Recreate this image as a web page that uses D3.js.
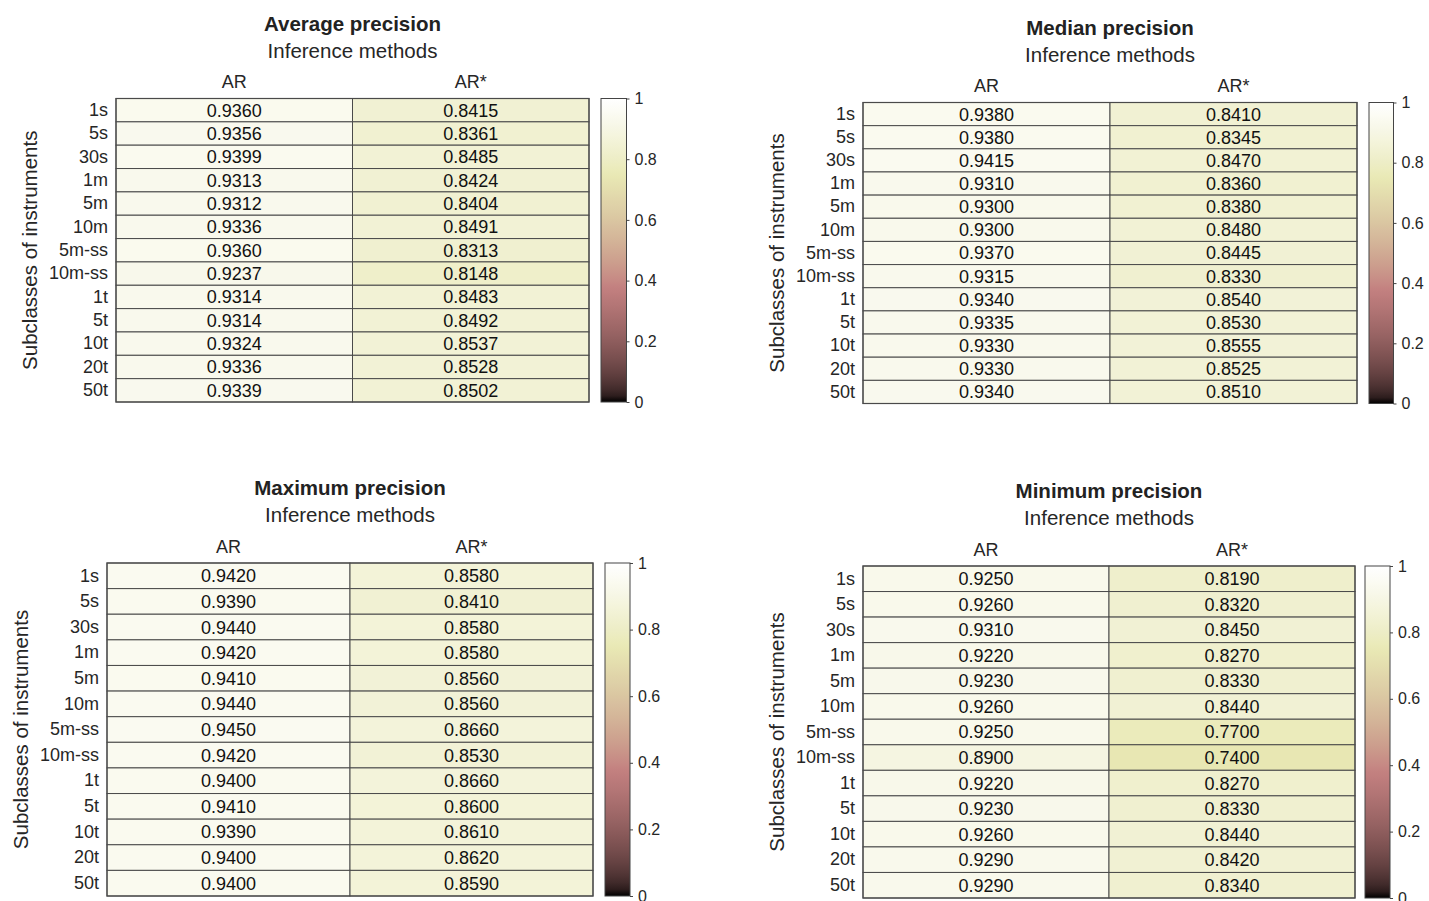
<!DOCTYPE html>
<html><head><meta charset="utf-8">
<script src="https://cdn.jsdelivr.net/npm/d3@7"></script>
<style>
body{margin:0;background:#fff}
text{font-family:"Liberation Sans",Arial,Helvetica,sans-serif}
</style>
</head><body>
<svg id="c" width="1429" height="901"></svg>
<script>
const subclasses = ["1s","5s","30s","1m","5m","10m","5m-ss","10m-ss","1t","5t","10t","20t","50t"];
const methods = ["AR","AR*"];
const avgAR  = [0.9360,0.9356,0.9399,0.9313,0.9312,0.9336,0.9360,0.9237,0.9314,0.9314,0.9324,0.9336,0.9339];
const avgARs = [0.8415,0.8361,0.8485,0.8424,0.8404,0.8491,0.8313,0.8148,0.8483,0.8492,0.8537,0.8528,0.8502];
const medAR  = [0.9380,0.9380,0.9415,0.9310,0.9300,0.9300,0.9370,0.9315,0.9340,0.9335,0.9330,0.9330,0.9340];
const medARs = [0.8410,0.8345,0.8470,0.8360,0.8380,0.8480,0.8445,0.8330,0.8540,0.8530,0.8555,0.8525,0.8510];
const maxAR  = [0.9420,0.9390,0.9440,0.9420,0.9410,0.9440,0.9450,0.9420,0.9400,0.9410,0.9390,0.9400,0.9400];
const maxARs = [0.8580,0.8410,0.8580,0.8580,0.8560,0.8560,0.8660,0.8530,0.8660,0.8600,0.8610,0.8620,0.8590];
const minAR  = [0.9250,0.9260,0.9310,0.9220,0.9230,0.9260,0.9250,0.8900,0.9220,0.9230,0.9260,0.9290,0.9290];
const minARs = [0.8190,0.8320,0.8450,0.8270,0.8330,0.8440,0.7700,0.7400,0.8270,0.8330,0.8440,0.8420,0.8340];
const colorbarTicks = [0, 0.2, 0.4, 0.6, 0.8, 1];
const titles = ["Average precision","Median precision","Maximum precision","Minimum precision"];
const xAxisTitle = "Inference methods";
const yAxisTitle = "Subclasses of instruments";

const series = [[avgAR,avgARs],[medAR,medARs],[maxAR,maxARs],[minAR,minARs]];

// layout of each panel (heatmap box + colorbar box)
const layouts = [
  {l:116, r:589,  t:98.5,  b:402,   cl:601,  cr:626.5},
  {l:863, r:1357, t:102.5, b:403.5, cl:1369, cr:1393.5},
  {l:107, r:593,  t:563,   b:896,   cl:605,  cr:630},
  {l:863, r:1355, t:566,   b:898,   cl:1365, cr:1390}
];

// MATLAB "pink" colormap
function pink(t){
  t = Math.max(0, Math.min(1, t));
  const hr = Math.min(1, t/0.375);
  const hg = Math.max(0, Math.min(1, (t-0.375)/0.375));
  const hb = Math.max(0, Math.min(1, (t-0.75)/0.25));
  const f = h => Math.round(255*Math.sqrt((2*t + h)/3));
  return `rgb(${f(hr)},${f(hg)},${f(hb)})`;
}
const color = d3.scaleSequential(pink).domain([0,1]);

const svg = d3.select("#c");
const defs = svg.append("defs");
const textCol = "#262626";
const gridCol = "#4a4a4a";
const FS = 18;
const FT = 20.5;

layouts.forEach((L, pi) => {
  const g = svg.append("g");
  const x = d3.scaleBand().domain(methods).range([L.l, L.r]);
  const y = d3.scaleBand().domain(subclasses).range([L.t, L.b]);
  const cells = [];
  subclasses.forEach((s, i) => methods.forEach((m, j) => cells.push({s, m, v: series[pi][j][i]})));

  g.selectAll("rect.cell").data(cells).join("rect")
    .attr("class","cell")
    .attr("x", d => x(d.m)).attr("y", d => y(d.s))
    .attr("width", x.bandwidth()).attr("height", y.bandwidth())
    .attr("fill", d => color(d.v))
    .attr("stroke", gridCol).attr("stroke-width", 1);

  g.selectAll("text.val").data(cells).join("text")
    .attr("class","val")
    .attr("x", d => x(d.m) + x.bandwidth()/2)
    .attr("y", d => y(d.s) + y.bandwidth()/2)
    .attr("dy","0.36em")
    .attr("text-anchor","middle")
    .attr("font-size", FS).attr("fill","#111")
    .text(d => d.v.toFixed(4));

  g.append("rect").attr("x",L.l).attr("y",L.t).attr("width",L.r-L.l).attr("height",L.b-L.t)
    .attr("fill","none").attr("stroke",gridCol).attr("stroke-width",1.2);

  // row labels
  const ay = g.append("g").attr("transform",`translate(${L.l},0)`)
    .call(d3.axisLeft(y).tickSize(0).tickPadding(8));
  ay.select(".domain").remove();
  ay.selectAll("text").attr("font-size",FS).attr("fill",textCol).attr("font-family",null);

  // column labels
  const ax = g.append("g").attr("transform",`translate(0,${L.t})`)
    .call(d3.axisTop(x).tickSize(0).tickPadding(10.5));
  ax.select(".domain").remove();
  ax.selectAll("text").attr("font-size",FS).attr("fill",textCol).attr("font-family",null);

  const cx = (L.l + L.r)/2;
  g.append("text").attr("x",cx).attr("y",L.t-40.8).attr("text-anchor","middle")
    .attr("font-size",FT).attr("fill",textCol).text(xAxisTitle);
  g.append("text").attr("x",cx).attr("y",L.t-67.8).attr("text-anchor","middle")
    .attr("font-size",FT).attr("font-weight","bold").attr("fill","#222").text(titles[pi]);
  g.append("text").attr("transform",`translate(${L.l-79},${(L.t+L.b)/2}) rotate(-90)`)
    .attr("text-anchor","middle").attr("font-size",FT).attr("fill",textCol).text(yAxisTitle);

  // colorbar
  const gid = "pinkgrad" + pi;
  const grad = defs.append("linearGradient").attr("id",gid)
    .attr("x1",0).attr("y1",1).attr("x2",0).attr("y2",0);
  d3.range(0, 1.0001, 0.02).forEach(t => grad.append("stop").attr("offset", t).attr("stop-color", color(t)));
  g.append("rect").attr("x",L.cl).attr("y",L.t).attr("width",L.cr-L.cl).attr("height",L.b-L.t)
    .attr("fill",`url(#${gid})`).attr("stroke","#444").attr("stroke-width",1);
  const cy = d3.scaleLinear().domain([0,1]).range([L.b, L.t]);
  const ac = g.append("g").attr("transform",`translate(${L.cr},0)`)
    .call(d3.axisRight(cy).tickValues(colorbarTicks).tickFormat(d3.format("~g")).tickSize(3).tickPadding(5));
  ac.select(".domain").remove();
  ac.selectAll("line").attr("stroke","#444");
  ac.selectAll("text").attr("font-size",16).attr("fill",textCol).attr("font-family",null);
});
</script>
</body></html>
